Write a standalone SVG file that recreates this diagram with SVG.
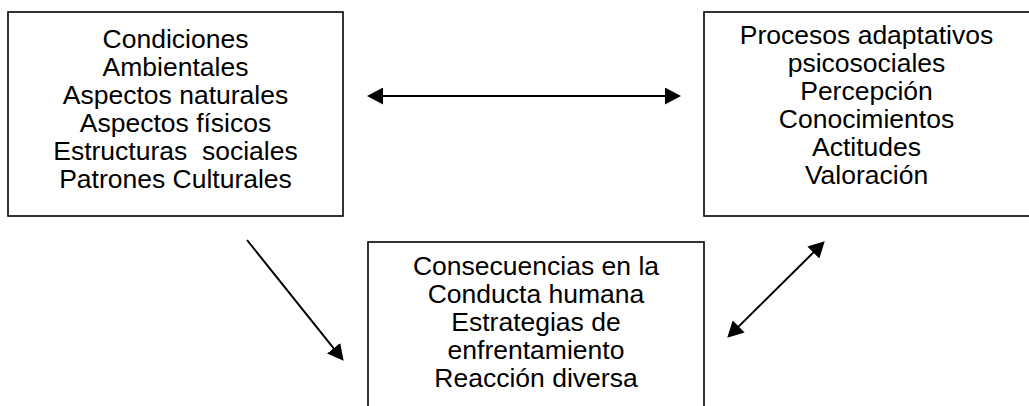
<svg xmlns="http://www.w3.org/2000/svg" width="1029" height="406" viewBox="0 0 1029 406">
<style>
.box{fill:#fff;stroke:#000;stroke-width:1.6}
.t{font-family:"Liberation Sans",Arial,sans-serif;font-size:26.5px;fill:#000;text-anchor:middle}
.c{stroke:#000;stroke-width:2;fill:none}
</style>
<defs>
<marker id="ah" markerUnits="userSpaceOnUse" markerWidth="17" markerHeight="17" refX="3" refY="8.5" orient="auto-start-reverse" viewBox="0 0 17 17">
<path d="M0,0 L16,8.5 L0,17 z" fill="#000"/>
</marker>
</defs>
<rect width="1029" height="406" fill="#fff"/>
<g id="node-condiciones">
<rect class="box" x="8" y="12" width="335" height="204"/>
<text class="t" x="175.5" y="48">Condiciones</text>
<text class="t" x="175.5" y="76">Ambientales</text>
<text class="t" x="175.5" y="104">Aspectos naturales</text>
<text class="t" x="175.5" y="132">Aspectos físicos</text>
<text class="t" x="175.5" y="160" xml:space="preserve">Estructuras  sociales</text>
<text class="t" x="175.5" y="188">Patrones Culturales</text>
</g>
<g id="node-procesos">
<rect class="box" x="704" y="12" width="340" height="204"/>
<text class="t" x="866.5" y="44">Procesos adaptativos</text>
<text class="t" x="866.5" y="72">psicosociales</text>
<text class="t" x="866.5" y="100">Percepción</text>
<text class="t" x="866.5" y="128">Conocimientos</text>
<text class="t" x="866.5" y="156">Actitudes</text>
<text class="t" x="866.5" y="184">Valoración</text>
</g>
<g id="node-consecuencias">
<rect class="box" x="368" y="242" width="336" height="200"/>
<text class="t" x="536" y="275">Consecuencias en la</text>
<text class="t" x="536" y="303">Conducta humana</text>
<text class="t" x="536" y="331">Estrategias de</text>
<text class="t" x="536" y="359">enfrentamiento</text>
<text class="t" x="536" y="387">Reacción diversa</text>
</g>
<g id="connectors">
<line class="c" x1="380" y1="96" x2="668" y2="96" marker-start="url(#ah)" marker-end="url(#ah)"/>
<line class="c" x1="247" y1="240" x2="335.5" y2="350.6" marker-end="url(#ah)"/>
<line class="c" x1="736.5" y1="328.6" x2="815.5" y2="250.4" marker-start="url(#ah)" marker-end="url(#ah)"/>
</g>
</svg>
